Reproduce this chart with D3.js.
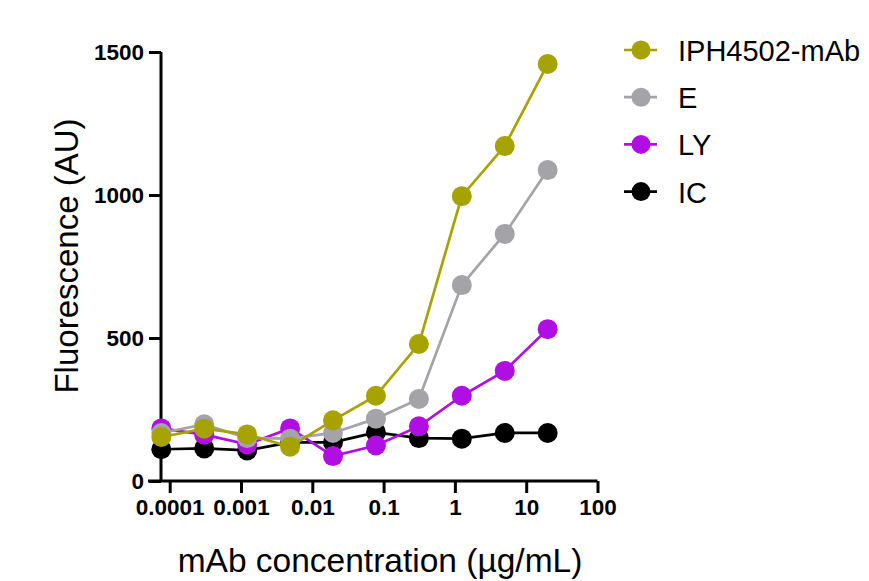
<!DOCTYPE html>
<html>
<head>
<meta charset="utf-8">
<script src="https://cdn.jsdelivr.net/npm/d3@7"></script>
<style>
	body { margin: 0; background: #fff; }
	text { font-family: "Liberation Sans", Arial, sans-serif; }
</style>
</head>
<body>
<svg id="chart" width="869" height="581"></svg>
<script>
// 4-fold dilution series (µg/mL)
var concentrations = [0.0000763, 0.000305, 0.00122, 0.00488, 0.0195, 0.078, 0.3125, 1.25, 5, 20];

var series_names = ["IPH4502-mAb", "E", "LY", "IC"];
var series_colors = ["#a6a300", "#a3a3a8", "#b10ee3", "#000000"];

var iph_values = [154, 183, 163, 120, 212, 298, 479, 996, 1171, 1458];
var e_values = [168, 198, 150, 148, 168, 218, 287, 685, 864, 1087];
var ly_values = [184, 162, 128, 184, 87, 124, 191, 298, 385, 531];
var ic_values = [111, 114, 107, 135, 135, 170, 150, 148, 168, 168];

var x_ticks = [0.0001, 0.001, 0.01, 0.1, 1, 10, 100];
var x_tick_labels = ["0.0001", "0.001", "0.01", "0.1", "1", "10", "100"];
var y_ticks = [0, 500, 1000, 1500];

var svg = d3.select("#chart");

var x = d3.scaleLog()
		.domain([0.0000755, 100])
		.range([161, 597.5]);

var y = d3.scaleLinear()
		.domain([0, 1500])
		.range([481, 52]);

var all_values = [iph_values, e_values, ly_values, ic_values];

// x axis
var xAxis = svg.append("g")
		.attr("transform", "translate(0,481)")
		.call(d3.axisBottom(x)
			.tickValues(x_ticks)
			.tickFormat(function(d, i) { return x_tick_labels[i]; })
			.tickSizeOuter(0)
			.tickSize(12)
			.tickPadding(6));

// y axis
var yAxis = svg.append("g")
		.attr("transform", "translate(161,0)")
		.call(d3.axisLeft(y)
			.tickValues(y_ticks)
			.tickFormat(d3.format("d"))
			.tickSizeOuter(0)
			.tickSize(12)
			.tickPadding(5));

[xAxis, yAxis].forEach(function(ax) {
	ax.select(".domain").attr("stroke", "#000").attr("stroke-width", 3);
	ax.selectAll(".tick line").attr("stroke", "#000").attr("stroke-width", 3);
	ax.selectAll(".tick text")
		.attr("fill", "#000")
		.style("font-family", "'Liberation Sans', Arial, sans-serif")
		.style("font-size", "22.5px")
		.style("font-weight", "bold");
});
// extend x axis line to meet the 0 tick on the y axis
xAxis.select(".domain").attr("d", "M" + (161 - 13) + ",0H597.5");
yAxis.select(".domain").attr("d", "M0,481V52");

// lines + points, IC first so IPH4502 ends on top
var line = d3.line()
		.x(function(d) { return x(d[0]); })
		.y(function(d) { return y(d[1]); });

for (var s = series_names.length - 1; s >= 0; s--) {
	var pts = concentrations.map(function(c, i) { return [c, all_values[s][i]]; });
	var g = svg.append("g").attr("class", "series");
	g.append("path")
		.datum(pts)
		.attr("d", line)
		.attr("fill", "none")
		.attr("stroke", series_colors[s])
		.attr("stroke-width", 2.7);
	g.selectAll("circle")
		.data(pts)
		.enter()
		.append("circle")
		.attr("cx", function(d) { return x(d[0]); })
		.attr("cy", function(d) { return y(d[1]); })
		.attr("r", 10)
		.attr("fill", series_colors[s]);
}

// legend
var legend = svg.selectAll(".legend")
		.data(series_names)
		.enter()
		.append("g")
		.attr("class", "legend")
		.attr("transform", function(d, i) { return "translate(0," + (50 + i * 47.2) + ")"; });

legend.append("line")
	.attr("x1", 624).attr("x2", 657)
	.attr("stroke", function(d, i) { return series_colors[i]; })
	.attr("stroke-width", 2.7);
legend.append("circle")
	.attr("cx", 641).attr("r", 9.5)
	.attr("fill", function(d, i) { return series_colors[i]; });
legend.append("text")
	.attr("x", 678).attr("y", 11)
	.style("font-size", "29px")
	.attr("fill", "#000")
	.text(function(d) { return d; });

// axis titles
svg.append("text")
	.attr("transform", "translate(78,256) rotate(-90)")
	.attr("text-anchor", "middle")
	.style("font-size", "33px")
	.text("Fluorescence (AU)");

svg.append("text")
	.attr("x", 380).attr("y", 572)
	.attr("text-anchor", "middle")
	.style("font-size", "33.5px")
	.text("mAb concentration (µg/mL)");
</script>
</body>
</html>
